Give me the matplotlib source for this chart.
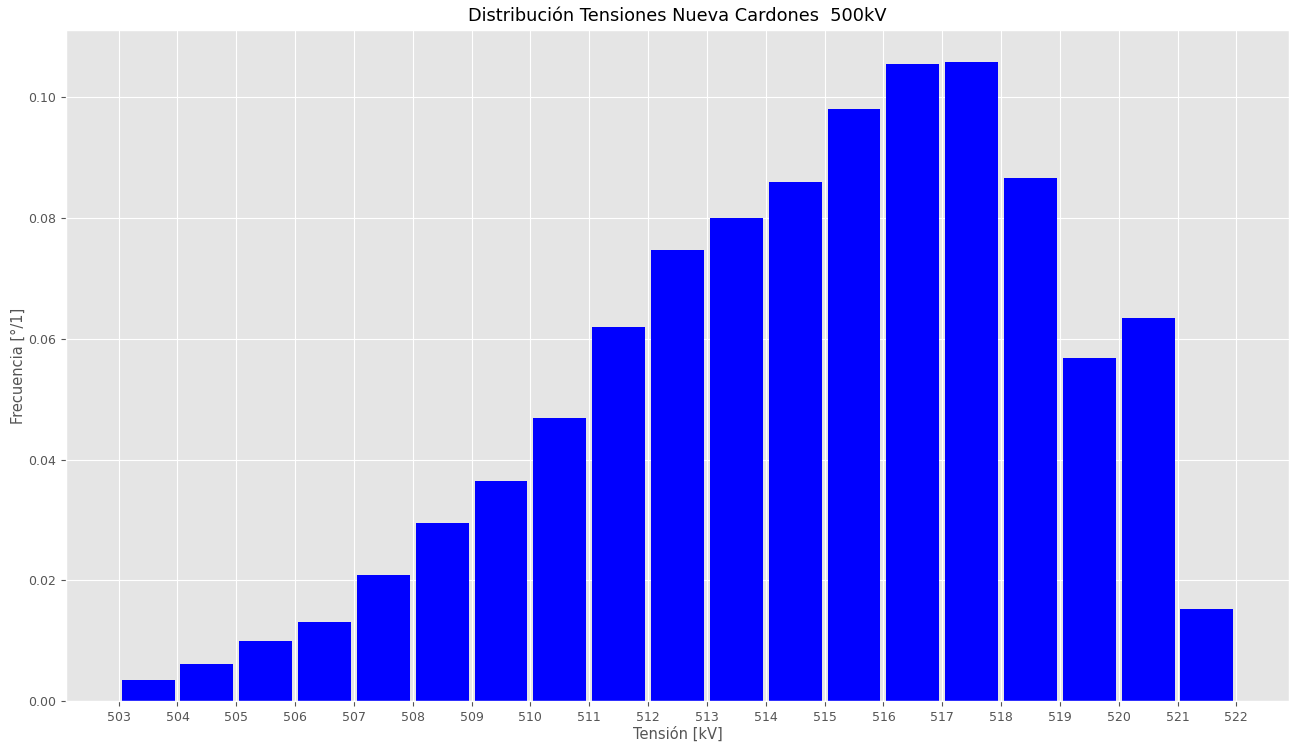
import numpy as np
import matplotlib
matplotlib.use("Agg")
from matplotlib import pyplot as plt

plt.style.use("ggplot")

# bins de tension [kV] y frecuencia relativa por bin
edges = np.arange(503, 523)
freq = [0.0035, 0.0062, 0.0099, 0.0131, 0.0208, 0.0295, 0.0365, 0.0469, 0.0619,
        0.0748, 0.0801, 0.0859, 0.0981, 0.1055, 0.1059, 0.0867, 0.0569, 0.0635,
        0.0152]

fig = plt.figure(figsize=(12.89, 7.45), dpi=100)
ax = fig.add_subplot(111)
fig.subplots_adjust(left=0.0512, right=1.0, top=0.960, bottom=0.059)

ax.hist(edges[:-1], bins=edges, weights=freq, rwidth=0.9, color="blue")

ax.set_xticks(edges)
ax.tick_params(axis="both", labelsize=9)
ax.set_title("Distribución Tensiones Nueva Cardones  500kV", fontsize=12.8, color="black")
ax.set_xlabel("Tensión [kV]", fontsize=10.5, labelpad=2)
ax.set_ylabel("Frecuencia [°/1]", fontsize=10.5, labelpad=1.5)

fig.savefig("out.png", dpi=100)
